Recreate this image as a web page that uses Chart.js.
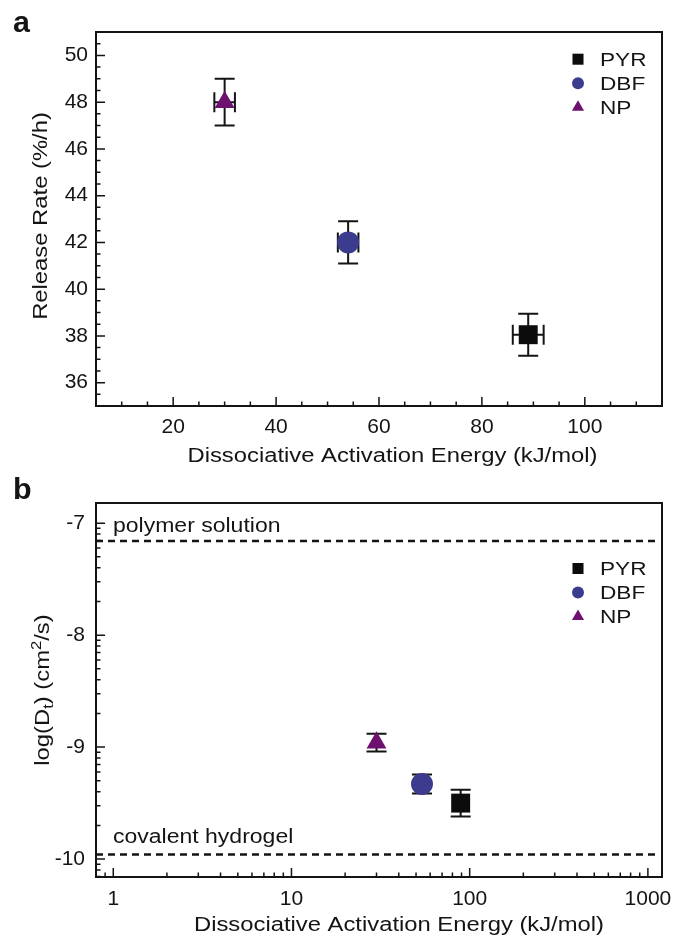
<!DOCTYPE html>
<html><head><meta charset="utf-8">
<script src="https://cdn.jsdelivr.net/npm/chart.js@4.4.1/dist/chart.umd.min.js"></script>
<style>
html,body{margin:0;padding:0;background:#fff;}
#wrap{position:relative;width:677px;height:937px;overflow:hidden;background:#fff;}
canvas{position:absolute;left:0;}
#ca{top:0;} #cb{top:470px;}
</style></head><body>
<div id="wrap"><canvas id="ca" width="677" height="470"></canvas><canvas id="cb" width="677" height="467"></canvas></div>
<script>
// ---------------- data ----------------
const seriesNames = ['PYR', 'DBF', 'NP'];
const activationEnergy = [89, 54, 30];          // kJ/mol
const activationEnergyErr = [3, 2, 2];
const releaseRate = [38.05, 42.0, 48.0];        // %/h
const releaseRateErr = [0.9, 0.9, 1.0];
const logDt = [-9.5, -9.33, -8.96];             // log(cm^2/s)
const logDtErr = [0.12, 0.085, 0.08];
const refLineValues = [-7.16, -9.96];
const refLineLabels = ['polymer solution', 'covalent hydrogel'];
const xTicksA = [20, 40, 60, 80, 100];
const yTicksA = [36, 38, 40, 42, 44, 46, 48, 50];
const xTicksB = [1, 10, 100, 1000];
const yTicksB = [-7, -8, -9, -10];

// ---------------- style ----------------
const seriesColors = ['#0c0c0c', '#3b3c8e', '#6e106f'];
const seriesShapes = ['rect', 'circle', 'triangle'];
const seriesRadius = [13.4, 11, 11.5];
const legendRadius = [7.8, 6, 7];
const SX = 1.19;
const FONT = '"Liberation Sans", Arial, Helvetica, sans-serif';
const INK = '#141414';

// minor tick helpers
function linearMinor(lo, hi, step, majors) {
  const out = [];
  for (let v = lo; v <= hi + 1e-9; v += step) {
    const r = Math.round(v * 1000) / 1000;
    if (!majors.some(m => Math.abs(m - r) < 1e-9)) out.push(r);
  }
  return out;
}
function logMinor(lo, hi) {
  const out = [];
  for (let d = -2; d <= 4; d++) for (let k = 2; k <= 9; k++) {
    const v = k * Math.pow(10, d);
    if (v >= lo && v <= hi) out.push(v);
  }
  return out;
}
function logAxisMinor(lo, hi) {
  const out = [];
  for (let n = -12; n <= -5; n++) for (let k = 2; k <= 9; k++) {
    const v = n + Math.log10(k);
    if (v >= lo && v <= hi) out.push(v);
  }
  return out;
}

function stretchedText(ctx, txt, x, y, size, opts) {
  opts = opts || {};
  ctx.save();
  ctx.font = (opts.bold ? 'bold ' : '') + size + 'px ' + FONT;
  ctx.fillStyle = INK;
  ctx.textBaseline = 'alphabetic';
  ctx.textAlign = opts.align || 'left';
  ctx.translate(x, y);
  if (opts.rotate) ctx.rotate(opts.rotate);
  ctx.scale(opts.sx || SX, 1);
  ctx.fillText(txt, 0, 0);
  ctx.restore();
}
function richText(ctx, segs, x, y, size, rotate) {
  ctx.save();
  ctx.translate(x, y);
  if (rotate) ctx.rotate(rotate);
  ctx.scale(SX, 1);
  ctx.fillStyle = INK; ctx.textBaseline = 'alphabetic'; ctx.textAlign = 'left';
  let total = 0;
  const parts = segs.map(s => {
    const fs = (s.sub || s.sup) ? size * 0.7 : size;
    ctx.font = fs + 'px ' + FONT;
    const w = ctx.measureText(s.t).width;
    total += w;
    return {s, fs, w};
  });
  let cx = -total / 2;
  parts.forEach(p => {
    ctx.font = p.fs + 'px ' + FONT;
    const dy = p.s.sub ? size * 0.22 : (p.s.sup ? -size * 0.4 : 0);
    ctx.fillText(p.s.t, cx, dy);
    cx += p.w;
  });
  ctx.restore();
}
function legendMarker(ctx, style, r, x, y, color) {
  ctx.save();
  ctx.fillStyle = color;
  if (Chart.helpers && Chart.helpers.drawPoint) {
    Chart.helpers.drawPoint(ctx, {pointStyle: style, radius: r, borderWidth: 0, rotation: 0}, x, y);
  } else {
    ctx.beginPath();
    if (style === 'rect') { const s = r * Math.SQRT1_2; ctx.rect(x - s, y - s, 2 * s, 2 * s); }
    else if (style === 'circle') ctx.arc(x, y, r, 0, Math.PI * 2);
    else { ctx.moveTo(x, y - r); ctx.lineTo(x + 0.866 * r, y + r / 2); ctx.lineTo(x - 0.866 * r, y + r / 2); ctx.closePath(); }
    ctx.fill();
  }
  ctx.restore();
}

const decor = {
  id: 'decor',
  beforeDatasetsDraw(chart, args, o) {
    const {ctx, chartArea: a} = chart;
    const x = chart.scales.x, y = chart.scales.y;
    (o.refLines || []).forEach((v, i) => {
      const py = y.getPixelForValue(v);
      ctx.save();
      ctx.strokeStyle = INK; ctx.lineWidth = 2.5; ctx.setLineDash([7, 5]);
      ctx.beginPath(); ctx.moveTo(a.left, py); ctx.lineTo(a.right - 4, py); ctx.stroke();
      ctx.restore();
      stretchedText(ctx, o.refLabels[i], a.left + 17, py + o.refLabelDy[i], 20, {sx: 1.15});
    });
    chart.data.datasets.forEach(ds => {
      ds.data.forEach((pt, j) => {
        const px = x.getPixelForValue(pt.x), py = y.getPixelForValue(pt.y);
        ctx.save();
        ctx.strokeStyle = INK; ctx.lineWidth = 2;
        ctx.beginPath();
        if (ds.yErr) {
          const t = y.getPixelForValue(pt.y + ds.yErr[j]), b = y.getPixelForValue(pt.y - ds.yErr[j]);
          ctx.moveTo(px, t); ctx.lineTo(px, b);
          ctx.moveTo(px - 10, t); ctx.lineTo(px + 10, t);
          ctx.moveTo(px - 10, b); ctx.lineTo(px + 10, b);
        }
        if (ds.xErr) {
          const l = x.getPixelForValue(pt.x - ds.xErr[j]), r = x.getPixelForValue(pt.x + ds.xErr[j]);
          ctx.moveTo(l, py); ctx.lineTo(r, py);
          ctx.moveTo(l, py - 10); ctx.lineTo(l, py + 10);
          ctx.moveTo(r, py - 10); ctx.lineTo(r, py + 10);
        }
        ctx.stroke();
        ctx.restore();
      });
    });
  },
  afterDraw(chart, args, o) {
    const {ctx, chartArea: a} = chart;
    const x = chart.scales.x, y = chart.scales.y;
    ctx.save();
    ctx.strokeStyle = INK;
    // inward ticks
    ctx.lineWidth = 1.5;
    ctx.beginPath();
    const tick = (vals, len, axis) => vals.forEach(v => {
      if (axis === 'x') { const p = x.getPixelForValue(v); if (p < a.left || p > a.right) return; ctx.moveTo(p, a.bottom); ctx.lineTo(p, a.bottom - len); }
      else { const p = y.getPixelForValue(v); if (p < a.top || p > a.bottom) return; ctx.moveTo(a.left, p); ctx.lineTo(a.left + len, p); }
    });
    tick(o.xMajor, 9, 'x'); tick(o.xMinor, 4.5, 'x');
    tick(o.yMajor, 9, 'y'); tick(o.yMinor, 4.5, 'y');
    ctx.stroke();
    // frame
    ctx.lineWidth = 2;
    ctx.strokeRect(a.left, a.top, a.right - a.left, a.bottom - a.top);
    ctx.restore();
    // legend
    chart.data.datasets.forEach((ds, i) => {
      const base = a.top + o.legendTop + i * 24;
      legendMarker(ctx, ds.pointStyle, legendRadius[i], a.right - 84, base - 6.5, ds.backgroundColor);
      stretchedText(ctx, ds.label, a.right - 62, base, 19);
    });
    // axis titles
    stretchedText(ctx, o.xTitle, o.xTitleX, o.xTitleY, 20, {align: 'center'});
    if (o.yRich) richText(ctx, o.yRich, o.yTitleX, o.yTitleY, 20, -Math.PI / 2);
    else stretchedText(ctx, o.yTitle, o.yTitleX, o.yTitleY, 20, {align: 'center', rotate: -Math.PI / 2});
    // panel letter
    stretchedText(ctx, o.letter, 13, o.letterY, 29, {bold: true, sx: 1.05});
  }
};

const tickFont = {family: FONT, size: 21};

function datasetsFor(yVals, yErrs, withXErr) {
  return seriesNames.map((n, i) => ({
    label: n,
    data: [{x: activationEnergy[i], y: yVals[i]}],
    yErr: [yErrs[i]],
    xErr: withXErr ? [activationEnergyErr[i]] : null,
    pointStyle: seriesShapes[i],
    pointRadius: seriesRadius[i],
    pointHoverRadius: seriesRadius[i],
    backgroundColor: seriesColors[i],
    borderColor: seriesColors[i],
    borderWidth: 0,
    showLine: false
  }));
}

function fixX(h) {
  return function (s) { s.height = h; s.paddingLeft = 0; s.paddingRight = 0; };
}
function fixY(w) {
  return function (s) { s.width = w; s.paddingTop = 0; s.paddingBottom = 0; };
}

// ---------------- panel a ----------------
new Chart(document.getElementById('ca'), {
  type: 'scatter',
  data: {datasets: datasetsFor(releaseRate, releaseRateErr, true)},
  plugins: [decor],
  options: {
    responsive: false, animation: false, devicePixelRatio: 1,
    layout: {padding: {left: 0, top: 32, right: 15, bottom: 0}},
    plugins: {
      legend: {display: false}, tooltip: {enabled: false},
      decor: {
        xMajor: xTicksA, xMinor: linearMinor(5, 115, 5, xTicksA),
        yMajor: yTicksA, yMinor: linearMinor(35, 51, 0.5, yTicksA),
        legendTop: 33.7,
        xTitle: 'Dissociative Activation Energy (kJ/mol)', xTitleX: 392.5, xTitleY: 461.7,
        yTitle: 'Release Rate (%/h)', yTitleX: 47, yTitleY: 216,
        letter: 'a', letterY: 32
      }
    },
    scales: {
      x: {
        type: 'linear', min: 5, max: 115,
        afterFit: fixX(64),
        afterBuildTicks(s) { s.ticks = xTicksA.map(v => ({value: v})); },
        ticks: {font: tickFont, color: INK, padding: 9, maxRotation: 0, autoSkip: false, callback: v => String(v)},
        grid: {display: false, drawTicks: false}, border: {display: false}
      },
      y: {
        type: 'linear', min: 35, max: 51,
        afterFit: fixY(96),
        afterBuildTicks(s) { s.ticks = yTicksA.map(v => ({value: v})); },
        ticks: {font: tickFont, color: INK, padding: 8, autoSkip: false, callback: v => String(v)},
        grid: {display: false, drawTicks: false}, border: {display: false}
      }
    }
  }
});

// ---------------- panel b ----------------
new Chart(document.getElementById('cb'), {
  type: 'scatter',
  data: {datasets: datasetsFor(logDt, logDtErr, false)},
  plugins: [decor],
  options: {
    responsive: false, animation: false, devicePixelRatio: 1,
    layout: {padding: {left: 0, top: 33, right: 15, bottom: 0}},
    plugins: {
      legend: {display: false}, tooltip: {enabled: false},
      decor: {
        xMajor: xTicksB, xMinor: logMinor(0.8, 1200),
        yMajor: yTicksB, yMinor: logAxisMinor(-10.16, -6.82),
        refLines: refLineValues, refLabels: refLineLabels, refLabelDy: [-9, -12],
        legendTop: 72,
        xTitle: 'Dissociative Activation Energy (kJ/mol)', xTitleX: 399, xTitleY: 461,
        yRich: [{t: 'log(D'}, {t: 't', sub: true}, {t: ') (cm'}, {t: '2', sup: true}, {t: '/s)'}],
        yTitleX: 49, yTitleY: 220,
        letter: 'b', letterY: 29
      }
    },
    scales: {
      x: {
        type: 'logarithmic', min: 0.8, max: 1200,
        afterFit: fixX(60),
        afterBuildTicks(s) { s.ticks = xTicksB.map(v => ({value: v})); },
        ticks: {font: tickFont, color: INK, padding: 10, maxRotation: 0, autoSkip: false, callback: v => String(v)},
        grid: {display: false, drawTicks: false}, border: {display: false}
      },
      y: {
        type: 'linear', min: -10.16, max: -6.82,
        afterFit: fixY(96),
        afterBuildTicks(s) { s.ticks = yTicksB.map(v => ({value: v})); },
        ticks: {font: tickFont, color: INK, padding: 11, autoSkip: false, callback: v => String(v)},
        grid: {display: false, drawTicks: false}, border: {display: false}
      }
    }
  }
});
</script>
</body></html>
